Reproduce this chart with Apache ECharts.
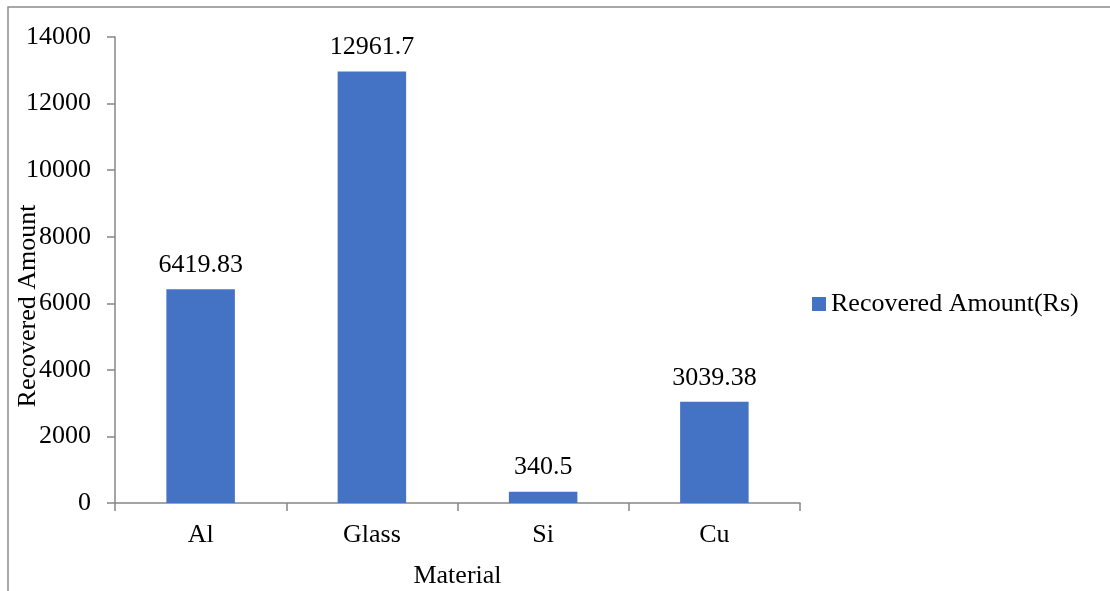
<!DOCTYPE html>
<html>
<head>
<meta charset="utf-8">
<script src="https://cdn.jsdelivr.net/npm/echarts@6/dist/echarts.min.js"></script>
<style>
  html, body { margin: 0; padding: 0; background: #fff; }
  #chart { width: 1110px; height: 591px; }
</style>
</head>
<body>
<div id="chart"></div>
<script>
  // data
  const materials = ['Al', 'Glass', 'Si', 'Cu'];
  const recovered = [6419.83, 12961.7, 340.5, 3039.38];
  const seriesName = 'Recovered Amount(Rs)';

  const font = '"Liberation Serif", "Times New Roman", serif';
  const axisGray = '#868686';

  let chart = echarts.init(document.getElementById('chart'));
  const option = {
    backgroundColor: '#fff',
    textStyle: { fontFamily: font, color: '#000' },
    graphic: [{
      type: 'rect',
      shape: { x: 8, y: 7, width: 1300, height: 800 },
      style: { fill: 'none', stroke: '#8c8c8c', lineWidth: 1.5 },
      silent: true
    }],
    legend: {
      data: [seriesName],
      left: 812,
      top: 291,
      padding: 0,
      icon: 'rect',
      itemWidth: 14,
      itemHeight: 14,
      itemGap: 6,
      textStyle: { fontFamily: font, fontSize: 26, color: '#000' }
    },
    grid: { left: 115, right: 310, top: 37, bottom: 88, outerBoundsMode: 'none', containLabel: false },
    xAxis: {
      type: 'category',
      data: materials,
      name: 'Material',
      nameLocation: 'middle',
      nameGap: 60,
      nameMoveOverlap: false,
      nameTextStyle: { fontFamily: font, fontSize: 26, color: '#000' },
      axisLine: { lineStyle: { color: axisGray, width: 1.5 } },
      axisTick: { show: true, length: 8, interval: 0, lineStyle: { color: axisGray, width: 1.5 } },
      axisLabel: { fontFamily: font, fontSize: 26, color: '#000', margin: 19 }
    },
    yAxis: {
      type: 'value',
      min: 0,
      max: 14000,
      interval: 2000,
      name: 'Recovered Amount',
      nameLocation: 'middle',
      nameGap: 74,
      nameMoveOverlap: false,
      // name sits a bit below the middle of the axis in the original
      nameTextStyle: { fontFamily: font, fontSize: 26, color: '#000', padding: [0, 72, 0, 0] },
      axisLine: { show: true, lineStyle: { color: axisGray, width: 1.5 } },
      axisTick: { show: true, length: 8, lineStyle: { color: axisGray, width: 1.5 } },
      axisLabel: {
        fontFamily: font, fontSize: 26, color: '#000', margin: 24,
        formatter: function (v) { return String(v); }
      },
      splitLine: { show: false }
    },
    series: [{
      name: seriesName,
      type: 'bar',
      data: recovered,
      barWidth: '40%',
      itemStyle: { color: '#4472C4' },
      label: {
        show: true,
        position: 'top',
        distance: 11,
        fontFamily: font,
        fontSize: 26,
        color: '#000'
      }
    }]
  };
  chart.setOption(option);
  window.addEventListener('resize', function () {
    chart.resize();
  });
</script>
</body>
</html>
